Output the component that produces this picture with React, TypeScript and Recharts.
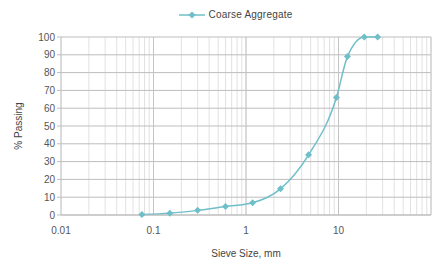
import { LineChart, Line, XAxis, YAxis, CartesianGrid, Legend, ReferenceLine } from 'recharts';

// sieve sizes (mm) and % passing
const sieveSizes = [0.075, 0.15, 0.3, 0.6, 1.18, 2.36, 4.75, 9.5, 12.5, 19, 26.5];
const passing = [0.3, 1, 2.6, 4.8, 6.9, 14.7, 33.8, 66, 89, 100, 100];

const decades = [0.01, 0.1, 1, 10, 100];
const yTicks = [0, 10, 20, 30, 40, 50, 60, 70, 80, 90, 100];

const seriesName = 'Coarse Aggregate';
const lineColor = '#6fbfca';

// minor log ticks 1..9 of every decade
const xTicks: number[] = [];
decades.slice(0, -1).forEach((d) => {
  for (let i = 1; i < 10; i++) xTicks.push(+(d * i).toPrecision(3));
});
xTicks.push(100);

const data = sieveSizes.map((size, i) => ({ size, passing: passing[i] }));

const Diamond = (props: any) => {
  const { cx, cy, index } = props;
  if (cx == null || cy == null) return null;
  const r = 3.5;
  return (
    <path
      key={index}
      d={`M${cx},${cy - r}L${cx + r},${cy}L${cx},${cy + r}L${cx - r},${cy}Z`}
      fill={lineColor}
    />
  );
};

const font = "'Liberation Sans', Arial, sans-serif";

// legend: line with a diamond marker, dark text
const LegendContent = () => (
  <div style={{ display: 'flex', justifyContent: 'center', alignItems: 'center', fontSize: 10, color: '#444', letterSpacing: 0.2 }}>
    <svg width={26} height={8} style={{ marginRight: 4, marginLeft: 40 }}>
      <line x1={0} y1={4} x2={26} y2={4} stroke={lineColor} strokeWidth={1.5} />
      <path d="M13,0.5L16.5,4L13,7.5L9.5,4Z" fill={lineColor} />
    </svg>
    <span>{seriesName}</span>
  </div>
);

export default function App() {
  return (
    <div style={{ width: 433, height: 265, fontFamily: font }}>
      <style>{'body{margin:0}'}</style>
      <LineChart width={433} height={265} data={data} margin={{ top: 37, right: 2, bottom: 20, left: 0 }}>
        <CartesianGrid stroke="#e2e2e2" horizontal={false} />
        <CartesianGrid stroke="#bdbdbd" vertical={false} />
        {decades.map((d) => (
          <ReferenceLine key={d} x={d} stroke="#c4c4c4" />
        ))}
        <XAxis
          dataKey="size"
          type="number"
          scale="log"
          domain={[0.01, 100]}
          ticks={xTicks}
          interval={0}
          allowDataOverflow
          height={30}
          tickFormatter={(v) => (decades.slice(0, -1).includes(v) ? String(v) : '')}
          tick={{ fontSize: 10, fill: '#555', fontFamily: font }}
          tickLine={false}
          axisLine={{ stroke: '#bdbdbd' }}
          tickMargin={6}
          label={{ value: 'Sieve Size, mm', position: 'insideBottom', offset: -12, fontSize: 10, fill: '#444', fontFamily: font }}
        />
        <YAxis
          type="number"
          domain={[0, 100]}
          ticks={yTicks}
          interval={0}
          width={61}
          tick={{ fontSize: 10, fill: '#555', fontFamily: font }}
          tickLine={{ stroke: '#bdbdbd' }}
          tickSize={4}
          axisLine={false}
          label={{ value: '% Passing', angle: -90, position: 'insideLeft', offset: 18, fontSize: 10, fill: '#444', fontFamily: font, style: { textAnchor: 'middle' } }}
        />
        <Legend
          verticalAlign="top"
          align="center"
          content={<LegendContent />}
          wrapperStyle={{ top: 9, height: 0, overflow: 'visible' }}
        />
        <Line
          name={seriesName}
          type="monotone"
          dataKey="passing"
          stroke={lineColor}
          strokeWidth={1.5}
          dot={<Diamond />}
          activeDot={false}
          isAnimationActive={false}
        />
      </LineChart>
    </div>
  );
}
